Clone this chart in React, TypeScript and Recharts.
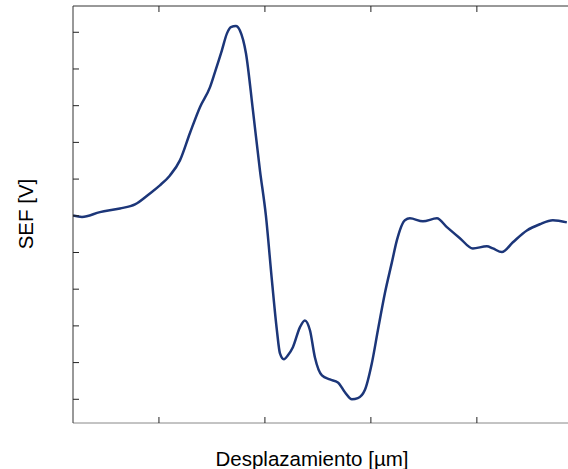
import { LineChart, Line, XAxis, YAxis, Label } from "recharts"

// desplazamiento (x) y señal SEF (y)
const desplazamiento = [
  0.189, 0.274, 0.443, 0.632, 0.774, 0.915, 1.009, 1.104, 1.198, 1.292, 1.387, 1.481,
  1.528, 1.594, 1.642, 1.679, 1.726, 1.764, 1.821, 1.887, 1.953, 2.009, 2.066, 2.113,
  2.142, 2.179, 2.217, 2.264, 2.33, 2.377, 2.425, 2.472, 2.538, 2.613, 2.689, 2.755,
  2.821, 2.877, 2.943, 3.009, 3.066, 3.132, 3.198, 3.245, 3.321, 3.368, 3.491, 3.623,
  3.717, 3.84, 3.962, 4.094, 4.151, 4.236, 4.34, 4.472, 4.594, 4.717, 4.849,
]
const sef = [
  5.01, 4.97, 5.1, 5.2, 5.31, 5.61, 5.83, 6.1, 6.51, 7.25, 7.96, 8.5,
  8.91, 9.51, 9.97, 10.14, 10.17, 10.05, 9.43, 7.87, 6.24, 5.01, 3.24, 1.88,
  1.25, 1.09, 1.2, 1.42, 1.96, 2.15, 1.88, 1.14, 0.65, 0.54, 0.46, 0.19,
  0.0, 0.03, 0.25, 0.98, 1.88, 2.89, 3.73, 4.33, 4.88, 4.93, 4.85, 4.93,
  4.69, 4.39, 4.11, 4.17, 4.11, 4.01, 4.28, 4.6, 4.77, 4.88, 4.82,
]
const xTicks = [1, 2, 3, 4]
const yTicks = [0, 1, 2, 3, 4, 5, 6, 7, 8, 9, 10]

const data = desplazamiento.map((x, i) => ({ x, y: sef[i] }))

const FONT = "'Liberation Sans', Arial, sans-serif"
const noText = () => <g />

export default function App() {
  return (
    <div style={{ position: "absolute", left: 0, top: 0, width: 568, height: 469, background: "#fff" }}>
      <LineChart width={568} height={469} data={data} margin={{ top: 0, right: 0, bottom: 0, left: 0 }}>
        <XAxis
          xAxisId="bottom" dataKey="x" type="number" domain={[0.189, 4.86]} ticks={xTicks}
          height={46} tick={noText} tickSize={-6} stroke="#888" tickLine={{ stroke: "#222" }} allowDataOverflow
        >
          <Label
            content={() => (
              <text x={312} y={466} textAnchor="middle" fontFamily={FONT} fontSize={20.5} fill="#000">
                Desplazamiento [µm]
              </text>
            )}
          />
        </XAxis>
        <XAxis
          xAxisId="top" orientation="top" dataKey="x" type="number" domain={[0.189, 4.86]} ticks={xTicks}
          height={6} tick={noText} tickSize={-6} stroke="#333" tickLine={{ stroke: "#222" }} allowDataOverflow
        />
        <YAxis
          type="number" domain={[-0.646, 10.716]} ticks={yTicks} width={73}
          tick={noText} tickSize={-6} stroke="#333" tickLine={{ stroke: "#222" }} allowDataOverflow
        >
          <Label
            content={() => (
              <text
                x={33} y={214} textAnchor="middle" fontFamily={FONT} fontSize={20.5} fill="#000"
                transform="rotate(-90 33 214)"
              >
                SEF [V]
              </text>
            )}
          />
        </YAxis>
        <Line
          xAxisId="bottom" type="monotone" dataKey="y" stroke="#1c3679" strokeWidth={2.5}
          dot={false} isAnimationActive={false}
        />
      </LineChart>
    </div>
  )
}
